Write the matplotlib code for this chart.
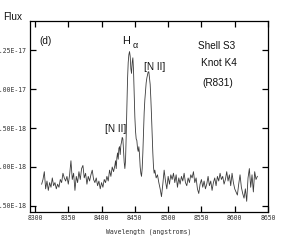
import matplotlib
matplotlib.use("Agg")
import matplotlib.pyplot as plt
import numpy as np

# ---- data (flux in units of 1e-18) ----
wave_a = [8310, 8312, 8314, 8316, 8318, 8320, 8322, 8324, 8326, 8328, 8330, 8332, 8334, 8336,
          8338, 8340, 8342, 8344, 8346, 8348, 8350, 8352, 8354, 8356, 8358, 8360, 8362, 8364,
          8366, 8368, 8370, 8372, 8374, 8376, 8378, 8380, 8382, 8384, 8386, 8388, 8390, 8392,
          8394, 8396, 8398, 8400, 8402, 8404, 8406, 8408, 8410, 8412, 8414, 8416, 8418]
flux_a = [3.9, 4.2, 4.7, 3.6, 4.1, 3.5, 4.0, 3.7, 4.3, 3.8, 4.0, 3.6, 3.9, 3.7,
          4.2, 4.0, 4.6, 4.3, 4.1, 4.4, 3.9, 4.5, 5.4, 4.2, 4.6, 3.5, 4.4, 4.0,
          4.7, 4.2, 4.9, 5.1, 4.3, 4.6, 3.9, 4.4, 4.1, 4.5, 4.8, 4.2, 4.0, 4.3,
          3.8, 4.1, 3.6, 4.0, 3.7, 4.2, 4.0, 4.4, 4.1, 4.8, 4.4, 5.0, 4.7]

wave_b = [8420, 8421, 8422, 8423, 8424, 8425, 8426, 8427, 8428, 8429, 8430, 8431, 8432, 8433,
          8434, 8435, 8436, 8437, 8438, 8439, 8440, 8441, 8442, 8443, 8444, 8445, 8446, 8447,
          8448, 8449, 8450, 8451, 8452, 8453, 8454, 8455, 8456, 8457, 8458, 8459, 8460, 8461,
          8462, 8463, 8464, 8465, 8466, 8467, 8468, 8469, 8470, 8471, 8472, 8473, 8474, 8475,
          8476, 8477, 8478, 8479, 8480]
flux_b = [5.1, 5.4, 4.9, 5.6, 5.9, 5.5, 6.2, 6.3, 5.8, 6.4, 6.6, 6.9, 6.8, 6.1,
          5.3, 4.9, 5.4, 7.0, 8.9, 10.6, 11.7, 12.2, 12.4, 12.1, 11.3, 11.0, 11.7, 12.0,
          11.2, 9.6, 8.2, 7.3, 6.8, 6.7, 6.2, 6.0, 6.3, 5.8, 5.0, 4.6, 4.4, 4.9,
          5.9, 7.3, 8.5, 9.3, 9.9, 10.4, 10.7, 10.9, 11.1, 11.1, 10.7, 10.3, 9.4, 8.3,
          7.0, 5.9, 5.0, 4.6, 4.8]

wave_c = [8482, 8484, 8486, 8488, 8490, 8492, 8494, 8496, 8498, 8500, 8502, 8504, 8506, 8508,
          8510, 8512, 8514, 8516, 8518, 8520, 8522, 8524, 8526, 8528, 8530, 8532, 8534, 8536,
          8538, 8540, 8542, 8544, 8546, 8548, 8550, 8552, 8554, 8556, 8558, 8560, 8562, 8564,
          8566, 8568, 8570, 8572, 8574, 8576, 8578, 8580, 8582, 8584, 8586, 8588, 8590, 8592,
          8594, 8596, 8598, 8600, 8602, 8604, 8606, 8608, 8610, 8612, 8614, 8616, 8618, 8620,
          8622, 8624, 8626, 8628, 8630, 8632, 8634]
flux_c = [4.3, 4.5, 4.0, 3.6, 3.1, 3.9, 4.8, 4.1, 3.6, 4.4, 3.9, 4.5, 4.2, 4.6,
          4.0, 4.5, 3.7, 4.3, 3.9, 4.4, 4.1, 4.6, 4.0, 3.8, 4.3, 4.0, 4.5, 4.3,
          4.7, 4.0, 4.3, 3.6, 3.3, 3.9, 4.2, 3.7, 4.1, 3.6, 3.9, 4.4, 3.8, 4.1,
          3.5, 4.0, 4.3, 3.8, 4.4, 4.1, 4.6, 4.2, 4.4, 3.9, 4.2, 4.7, 4.1, 4.5,
          3.8, 4.6, 4.0, 3.6, 3.4, 3.2, 3.9, 4.5, 3.7, 3.3, 3.0, 3.6, 2.8, 4.3,
          4.9, 3.7, 4.5, 3.4, 4.7, 4.2, 4.4]

xticks = [8300, 8350, 8400, 8450, 8500, 8550, 8600, 8650]
yticks = [2.5e-18, 5.0e-18, 7.5e-18, 1.0e-17, 1.25e-17]
ytick_labels = ["2.50E-18", "5.00E-18", "7.50E-18", "1.00E-17", "1.25E-17"]

wave = np.array(wave_a + wave_b + wave_c, dtype=float)
flux = np.array(flux_a + flux_b + flux_c) * 1e-18

W, H = 303, 249
fig = plt.figure(figsize=(W / 100, H / 100), dpi=100)
ax = fig.add_axes([30 / W, 1 - 212 / H, (268 - 30) / W, (212 - 21) / H])

ax.plot(wave, flux, color="#3a3a3a", lw=0.6)

ax.set_xlim(8292.5, 8650)
ax.set_ylim(2.115e-18, 1.436e-17)
ax.set_xticks(xticks)
ax.set_xticklabels([str(v) for v in xticks])
ax.set_yticks(yticks)
ax.set_yticklabels(ytick_labels)
ax.tick_params(direction="in", length=4, width=0.9, top=True, right=True,
               labelsize=4.7, pad=2.5)
for lab in ax.get_xticklabels() + ax.get_yticklabels():
    lab.set_family("DejaVu Sans Mono")
    lab.set_color("#333333")
for sp in ax.spines.values():
    sp.set_linewidth(0.9)

ax.set_xlabel("Wavelength (angstroms)", family="DejaVu Sans Mono", fontsize=4.7,
              color="#333333", labelpad=5)

def ftext(x, y, s, size=7.2, ha="center", **kw):
    fig.text(x / W, 1 - y / H, s, ha=ha, va="center", fontsize=size,
             family="Liberation Sans", color="#111111", **kw)

ftext(3, 17, "Flux", size=7.2, ha="left")
ftext(45, 41, "(d)")
ftext(126.5, 41, "H", size=7.8)
ftext(135.5, 45, "\u03b1", size=6.5)
ftext(155, 67, "[N II]")
ftext(116, 129, "[N II]")
ftext(216.5, 46, "Shell S3")
ftext(218.5, 63, "Knot K4")
ftext(218, 82.5, "(R831)")

fig.savefig("out.png", dpi=100)
